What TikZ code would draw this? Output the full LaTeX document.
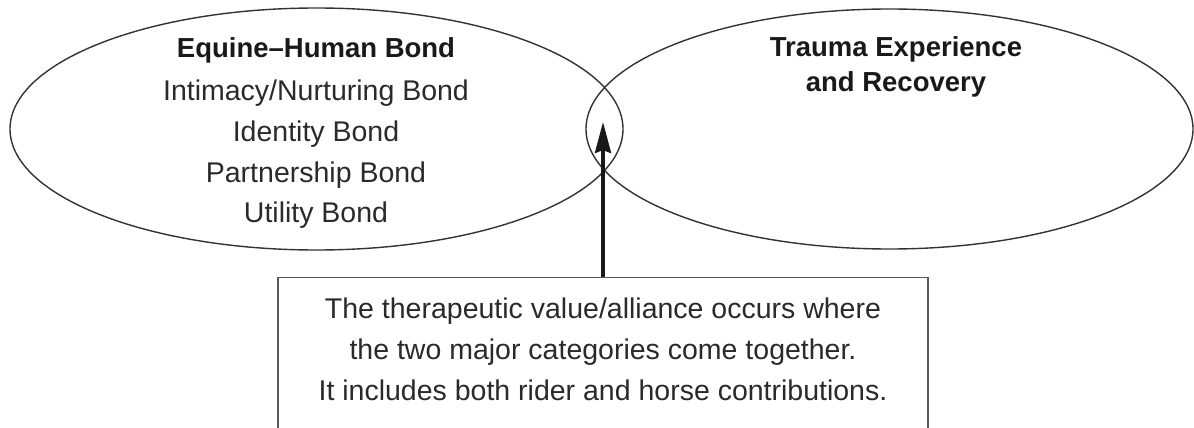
\documentclass[tikz,border=0pt]{standalone}
\usepackage{fontspec}
\setmainfont{Liberation Sans}
\usetikzlibrary{shapes.geometric,arrows.meta}
\definecolor{inkline}{HTML}{333333}
\definecolor{inktext}{HTML}{2A2A2A}
\begin{document}
\begin{tikzpicture}[x=1pt,y=-1pt,
  oval/.style={ellipse,draw=inkline,line width=1.4pt,inner sep=0pt},
  lbl/.style={anchor=base,inner sep=0pt,text=inktext,font=\fontsize{28.5}{34}\selectfont},
  head/.style={anchor=base,inner sep=0pt,text=black!90,font=\fontsize{27.5}{33}\selectfont\bfseries},
  note/.style={draw=black!65,line width=1.2pt,inner sep=0pt},
  pointer/.style={line width=3.6pt,draw=black!90,-{Stealth[length=31pt,width=16pt,inset=3pt]}}]
\useasboundingbox (0,0) rectangle (1194,428);
\clip (0,0) rectangle (1194,428);
% ellipses
\node[oval,minimum width=613pt,minimum height=242pt] (L) at (316.5,129) {};
\node[oval,minimum width=607pt,minimum height=240pt] (R) at (889.5,129) {};
% left texts
\node[head] (l0) at (316,58) {Equine–Human Bond};
\node[lbl] (l1) at (316,100) {Intimacy/Nurturing Bond};
\node[lbl] (l2) at (316,141) {Identity Bond};
\node[lbl] (l3) at (316,182) {Partnership Bond};
\node[lbl] (l4) at (316,222) {Utility Bond};
% right texts
\node[head] (r0) at (896,57) {Trauma Experience};
\node[head] (r1) at (896,92) {and Recovery};
% box
\node[note,minimum width=650pt,minimum height=170pt,anchor=north] (box) at (603,277) {};
\node[lbl] (b1) at (603,318) {The therapeutic value/alliance occurs where};
\node[lbl] (b2) at (603,359) {the two major categories come together.};
\node[lbl] (b3) at (603,400) {It includes both rider and horse contributions.};
% arrow
\coordinate (tip) at (603,122);
\draw[pointer] (box.north) -- (tip);
\end{tikzpicture}
\end{document}
